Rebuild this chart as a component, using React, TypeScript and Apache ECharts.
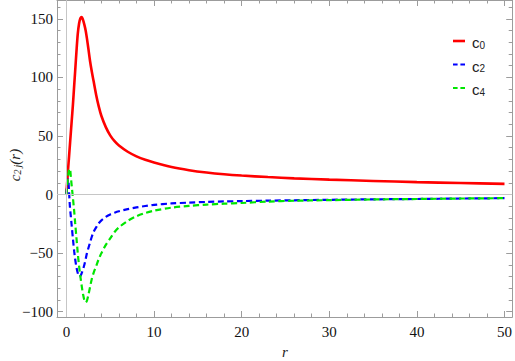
import React, { useEffect, useRef } from "react";
import * as echarts from "echarts";

// radial coordinate samples (shared by all three curves)
const rValues = [0, 0.1, 0.2, 0.3, 0.4, 0.5, 0.6, 0.75, 0.9, 1.0, 1.15, 1.3, 1.45, 1.6, 1.75, 1.9, 2.05, 2.2, 2.35, 2.5, 2.7, 2.9, 3.1, 3.4, 3.7, 4.0, 4.5, 5, 5.5, 6, 7, 8, 9, 10, 12, 14, 16, 18, 20, 23, 26, 30, 35, 40, 45, 50];
const c0Values = [1, 11, 22, 32, 42, 52, 62, 77, 94, 105, 122, 137, 146, 150.5, 151.5, 149, 145, 140, 133, 125, 114, 105, 97, 85, 75, 67, 57.5, 50.5, 45.5, 41.8, 36.5, 32.6, 29.6, 27.3, 23.5, 20.8, 18.8, 17.3, 16.2, 14.9, 13.8, 12.7, 11.6, 10.6, 9.8, 9.1];
const c2Values = [0, 9, 13, 3, -10, -18, -26, -38, -49, -55, -62, -67, -70, -69.5, -67, -64, -60, -55, -50, -46, -41, -36, -32, -28, -24.5, -22, -19, -17, -15.5, -14.3, -12.5, -11, -9.8, -8.8, -7.6, -6.9, -6.3, -5.9, -5.6, -5.2, -4.9, -4.5, -4.1, -3.8, -3.4, -3.1];
const c4Values = [0, 8, 16, 21, 22, 16, 8, -3, -15, -24, -37, -50, -61, -70, -78, -85, -90, -92, -90.5, -86, -79, -72, -67, -61, -55, -50, -43, -37.5, -32, -28, -22.5, -18.5, -15.8, -13.8, -11.2, -9.7, -8.6, -7.8, -7.2, -6.0, -5.3, -4.8, -4.2, -3.8, -3.4, -3.1];

const seriesNames = ["c0", "c2", "c4"];
const xMajorTicks = [0, 10, 20, 30, 40, 50];
const xMinorTicks = [2, 4, 6, 8, 12, 14, 16, 18, 22, 24, 26, 28, 32, 34, 36, 38, 42, 44, 46, 48];
const yMajorTicks = [-100, -50, 0, 50, 100, 150];
const yMinorTicks = [-90, -80, -70, -60, -40, -30, -20, -10, 10, 20, 30, 40, 60, 70, 80, 90, 110, 120, 130, 140, 160];

const X_MIN = -1.07;
const X_MAX = 50.88;
const Y_MIN = -104.5;
const Y_MAX = 166;

const FRAME = "#9c9c9c";
const SERIF = "'Liberation Serif', 'Times New Roman', serif";
const SANS = "'Liberation Sans', Arial, sans-serif";

const fmt = (v: number) => (v < 0 ? "\u2212" + Math.abs(v) : String(v));

function makeAxis(dim: "x" | "y", position: string, ticks: number[], len: number, showLine: boolean, showLabel: boolean) {
  return {
    type: "value",
    gridIndex: 0,
    position,
    min: dim === "x" ? X_MIN : Y_MIN,
    max: dim === "x" ? X_MAX : Y_MAX,
    axisLine: { show: showLine, onZero: false, lineStyle: { color: FRAME, width: 1 } },
    axisTick: { show: true, inside: true, length: len, customValues: ticks, lineStyle: { color: FRAME, width: 1 } },
    axisLabel: showLabel
      ? { show: true, customValues: ticks, margin: dim === "x" ? 7 : 4, color: "#111", fontFamily: SERIF, fontSize: 15, formatter: fmt }
      : { show: false },
    splitLine: { show: false },
    minorTick: { show: false },
  };
}

const SOLID_ICON = "path://M0,0H12V2.6H0Z";
const DASH_ICON = "path://M0,0H4.6V2.2H0Z M7.4,0H12V2.2H7.4Z";

export default function App() {
  const ref = useRef<HTMLDivElement>(null);
  useEffect(() => {
    if (!ref.current) return;
    const chart = echarts.init(ref.current, undefined, { renderer: "svg" });
    const colors = ["#ff0000", "#0000ff", "#00e600"];
    const valueSets = [c0Values, c2Values, c4Values];
    const lineSeries = seriesNames.map((name, i) => ({
      name,
      type: "line",
      z: 3,
      data: rValues.map((r, k) => [r, valueSets[i][k]]),
      showSymbol: false,
      symbol: "none",
      smooth: 0.3,
      color: colors[i],
      itemStyle: { color: colors[i] },
      lineStyle: i === 0 ? { color: colors[i], width: 2.6 } : { color: colors[i], width: 2.2, type: [6, 3.5] },
    }));
    chart.setOption({
      animation: false,
      grid: { left: 57, right: 2, top: 0, bottom: 44, containLabel: false },
      xAxis: [
        makeAxis("x", "bottom", xMajorTicks, 6, true, true),
        makeAxis("x", "bottom", xMinorTicks, 3.5, false, false),
        makeAxis("x", "top", xMajorTicks, 6, true, false),
        makeAxis("x", "top", xMinorTicks, 3.5, false, false),
      ],
      yAxis: [
        makeAxis("y", "left", yMajorTicks, 6, true, true),
        makeAxis("y", "left", yMinorTicks, 3.5, false, false),
        makeAxis("y", "right", yMajorTicks, 6, true, false),
        makeAxis("y", "right", yMinorTicks, 3.5, false, false),
      ],
      legend: {
        data: seriesNames.map((name, i) => ({ name, icon: i === 0 ? SOLID_ICON : DASH_ICON, itemStyle: { color: colors[i] } })),
        orient: "vertical",
        left: 448,
        top: 30,
        itemWidth: 12,
        itemHeight: 14,
        itemGap: 8.5,
        symbolKeepAspect: true,
        formatter: (name: string) => `{b|c}{s|${name.slice(1)}}`,
        textStyle: {
          fontFamily: SANS,
          color: "#222",
          rich: {
            b: { fontFamily: SANS, fontSize: 15, lineHeight: 18, verticalAlign: "bottom", color: "#222", padding: [0, 0, 0, 2] },
            s: { fontFamily: SANS, fontSize: 10, lineHeight: 10, verticalAlign: "bottom", color: "#222" },
          },
        },
      },
      graphic: [
        {
          type: "text",
          x: 13,
          y: 165,
          rotation: Math.PI / 2,
          style: {
            text: "{i|c}{s|2\u2009j}{i|(r)}",
            align: "center",
            verticalAlign: "middle",
            textAlign: "center",
            textVerticalAlign: "middle",
            rich: {
              i: { fontFamily: SERIF, fontStyle: "italic", fontSize: 15, lineHeight: 18, verticalAlign: "bottom", fill: "#222" },
              s: { fontFamily: SERIF, fontStyle: "italic", fontSize: 10, lineHeight: 10, verticalAlign: "bottom", fill: "#222" },
            },
          },
        },
        {
          type: "text",
          x: 285,
          y: 352,
          style: {
            text: "r",
            font: `italic 15px ${SERIF}`,
            align: "center",
            verticalAlign: "middle",
            textAlign: "center",
            textVerticalAlign: "middle",
            fill: "#222",
          },
        },
      ],
      series: [
        {
          type: "line",
          z: 1,
          data: [],
          silent: true,
          markLine: {
            silent: true,
            symbol: ["none", "none"],
            label: { show: false },
            lineStyle: { color: "#c6c6c6", width: 1, type: "solid" },
            emphasis: { disabled: true },
            data: [{ xAxis: 0 }, { yAxis: 0 }],
          },
        },
        ...lineSeries,
      ],
    });
    return () => chart.dispose();
  }, []);
  return <div ref={ref} style={{ position: "absolute", left: 0, top: 0, width: 515, height: 361 }} />;
}
